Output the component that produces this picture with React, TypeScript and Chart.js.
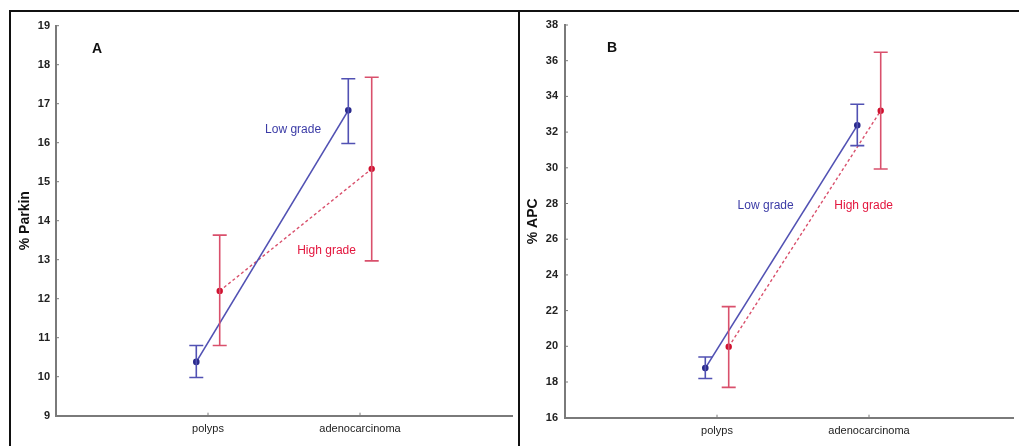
import React, { useEffect, useRef } from 'react';
import { Chart, registerables } from 'chart.js';

Chart.register(...registerables);

// ---------- data ----------
const categories = ['polyps', 'adenocarcinoma'];
const seriesNames = ['Low grade', 'High grade'];
const GROUP_OFFSET = 0.077; // horizontal dodge of the two series around each category

// Panel A – % Parkin
const parkinLowMean = [10.38, 16.83];
const parkinLowUpper = [10.8, 17.64];
const parkinLowLower = [9.98, 15.98];
const parkinHighMean = [12.2, 15.33];
const parkinHighUpper = [13.63, 17.68];
const parkinHighLower = [10.8, 12.97];

// Panel B – % APC
const apcLowMean = [18.78, 32.38];
const apcLowUpper = [19.4, 33.56];
const apcLowLower = [18.2, 31.24];
const apcHighMean = [19.98, 33.2];
const apcHighUpper = [22.22, 36.47];
const apcHighLower = [17.7, 29.93];

// annotation anchors (data units)
const panelALetter = { text: 'A', x: 0.27, y: 18.4 };
const panelALowLabel = { x: 1.56, y: 16.33 };
const panelAHighLabel = { x: 1.78, y: 13.22 };
const panelBLetter = { text: 'B', x: 0.31, y: 36.71 };
const panelBLowLabel = { x: 1.32, y: 27.86 };
const panelBHighLabel = { x: 1.965, y: 27.86 };

const FONT = "'Liberation Sans', Arial, sans-serif";
const LOW_LINE = '#5151b3';
const LOW_POINT = '#2a2a8c';
const LOW_TEXT = '#3b3ba6';
const HIGH_LINE = '#d9506c';
const HIGH_POINT = '#d0102e';
const HIGH_TEXT = '#e3153d';
const AXIS = '#7a7a7a';

type PanelSpec = {
  lowMean: number[]; lowUpper: number[]; lowLower: number[];
  highMean: number[]; highUpper: number[]; highLower: number[];
  yMin: number; yMax: number; yStep: number; yTitle: string;
  xMax: number;
  yAxisWidth: number; titlePad: number; tickPad: number;
  padTop: number; padRight: number; xAxisHeight: number;
  letter: { text: string; x: number; y: number };
  lowLabel: { x: number; y: number };
  highLabel: { x: number; y: number };
};

function pts(means: number[], sign: number) {
  return means.map((v, i) => ({ x: i + 1 + sign * GROUP_OFFSET, y: v }));
}

function Panel({ spec, left, width }: { spec: PanelSpec; left: number; width: number }) {
  const ref = useRef<HTMLCanvasElement>(null);
  useEffect(() => {
    if (!ref.current) return;
    const errorBars = {
      id: 'errorBars',
      afterDatasetsDraw(chart: any) {
        const { ctx, scales } = chart;
        const xs = scales.x, ys = scales.y;
        const sets = [
          { sign: -1, up: spec.lowUpper, lo: spec.lowLower, color: LOW_LINE },
          { sign: 1, up: spec.highUpper, lo: spec.highLower, color: HIGH_LINE },
        ];
        ctx.save();
        ctx.lineWidth = 1.6;
        sets.forEach((s) => {
          ctx.strokeStyle = s.color;
          s.up.forEach((u, i) => {
            const x = xs.getPixelForValue(i + 1 + s.sign * GROUP_OFFSET);
            const yU = ys.getPixelForValue(u);
            const yL = ys.getPixelForValue(s.lo[i]);
            ctx.beginPath();
            ctx.moveTo(x, yU); ctx.lineTo(x, yL);
            ctx.moveTo(x - 7, yU); ctx.lineTo(x + 7, yU);
            ctx.moveTo(x - 7, yL); ctx.lineTo(x + 7, yL);
            ctx.stroke();
          });
        });
        // small inward tick marks on the axes
        ctx.strokeStyle = AXIS;
        ctx.lineWidth = 1;
        const ca = chart.chartArea;
        ys.ticks.forEach((t: any) => {
          const y = ys.getPixelForValue(t.value);
          ctx.beginPath();
          ctx.moveTo(ca.left, y); ctx.lineTo(ca.left + 3, y);
          ctx.stroke();
        });
        xs.ticks.forEach((t: any) => {
          const x = xs.getPixelForValue(t.value);
          ctx.beginPath();
          ctx.moveTo(x, ca.bottom); ctx.lineTo(x, ca.bottom - 3);
          ctx.stroke();
        });
        // annotations
        const txt = (t: string, x: number, y: number, color: string, font: string) => {
          ctx.fillStyle = color;
          ctx.font = font;
          ctx.textAlign = 'center';
          ctx.textBaseline = 'middle';
          ctx.fillText(t, xs.getPixelForValue(x), ys.getPixelForValue(y));
        };
        txt(spec.letter.text, spec.letter.x, spec.letter.y, '#111', `bold 14px ${FONT}`);
        txt(seriesNames[0], spec.lowLabel.x, spec.lowLabel.y, LOW_TEXT, `12px ${FONT}`);
        txt(seriesNames[1], spec.highLabel.x, spec.highLabel.y, HIGH_TEXT, `12px ${FONT}`);
        ctx.restore();
      },
    };
    const chart = new Chart(ref.current, {
      type: 'scatter',
      data: {
        datasets: [
          {
            label: seriesNames[0],
            data: pts(spec.lowMean, -1),
            showLine: true,
            borderColor: LOW_LINE,
            borderWidth: 1.6,
            pointBackgroundColor: LOW_POINT,
            pointBorderColor: LOW_POINT,
            pointRadius: 2.5,
            order: 1,
          },
          {
            label: seriesNames[1],
            data: pts(spec.highMean, 1),
            showLine: true,
            borderColor: HIGH_LINE,
            borderWidth: 1.4,
            borderDash: [3, 2.5],
            pointBackgroundColor: HIGH_POINT,
            pointBorderColor: HIGH_POINT,
            pointRadius: 2.5,
            order: 2,
          },
        ],
      },
      options: {
        animation: false,
        responsive: false,
        maintainAspectRatio: false,
        events: [],
        layout: { padding: { top: spec.padTop, right: spec.padRight, left: 0, bottom: 0 } },
        plugins: { legend: { display: false }, tooltip: { enabled: false }, title: { display: false } },
        scales: {
          x: {
            type: 'linear',
            min: 0,
            max: spec.xMax,
            afterBuildTicks: (scale: any) => {
              scale.ticks = categories.map((_, i) => ({ value: i + 1 }));
            },
            afterFit: (scale: any) => { scale.height = spec.xAxisHeight; },
            grid: { display: false, drawTicks: false },
            border: { display: true, color: AXIS, width: 2 },
            ticks: {
              color: '#222',
              font: { family: FONT, size: 11 },
              padding: 7,
              maxRotation: 0,
              autoSkip: false,
              callback: (v: any) => categories[Math.round(v) - 1] ?? '',
            },
          },
          y: {
            type: 'linear',
            min: spec.yMin,
            max: spec.yMax,
            afterFit: (scale: any) => { scale.width = spec.yAxisWidth; },
            grid: { display: false, drawTicks: false },
            border: { display: true, color: AXIS, width: 2 },
            ticks: {
              stepSize: spec.yStep,
              color: '#222',
              font: { family: FONT, size: 11, weight: 'bold' },
              padding: spec.tickPad,
            },
            title: {
              display: true,
              text: spec.yTitle,
              color: '#111',
              font: { family: FONT, size: 14, weight: 'bold' },
              padding: { top: spec.titlePad, bottom: 0 },
            },
          },
        },
      },
      plugins: [errorBars],
    } as any);
    return () => chart.destroy();
  }, [spec]);
  return (
    <canvas
      ref={ref}
      width={width}
      height={446}
      style={{ position: 'absolute', left, top: 0, width, height: 446 }}
    />
  );
}

const specA: PanelSpec = {
  lowMean: parkinLowMean, lowUpper: parkinLowUpper, lowLower: parkinLowLower,
  highMean: parkinHighMean, highUpper: parkinHighUpper, highLower: parkinHighLower,
  yMin: 9, yMax: 19, yStep: 1, yTitle: '% Parkin', xMax: 3,
  yAxisWidth: 56, titlePad: 16.6, tickPad: 6,
  padTop: 25.7, padRight: 7, xAxisHeight: 30.3,
  letter: panelALetter, lowLabel: panelALowLabel, highLabel: panelAHighLabel,
};

const specB: PanelSpec = {
  lowMean: apcLowMean, lowUpper: apcLowUpper, lowLower: apcLowLower,
  highMean: apcHighMean, highUpper: apcHighUpper, highLower: apcHighLower,
  yMin: 16, yMax: 38, yStep: 2, yTitle: '% APC', xMax: 2.95,
  yAxisWidth: 46, titlePad: 5.6, tickPad: 7,
  padTop: 25, padRight: 1, xAxisHeight: 28.3,
  letter: panelBLetter, lowLabel: panelBLowLabel, highLabel: panelBHighLabel,
};

export default function App() {
  return (
    <div
      style={{
        position: 'absolute', left: 0, top: 0, width: 1019, height: 446,
        overflow: 'hidden', background: '#fff',
      }}
    >
      <div style={{ position: 'absolute', left: 9, top: 10, width: 1040, height: 460, border: '2px solid #111', boxSizing: 'border-box' }} />
      <div style={{ position: 'absolute', left: 518, top: 10, width: 2, height: 460, background: '#111' }} />
      <Panel spec={specA} left={0} width={519} />
      <Panel spec={specB} left={519} width={500} />
    </div>
  );
}
